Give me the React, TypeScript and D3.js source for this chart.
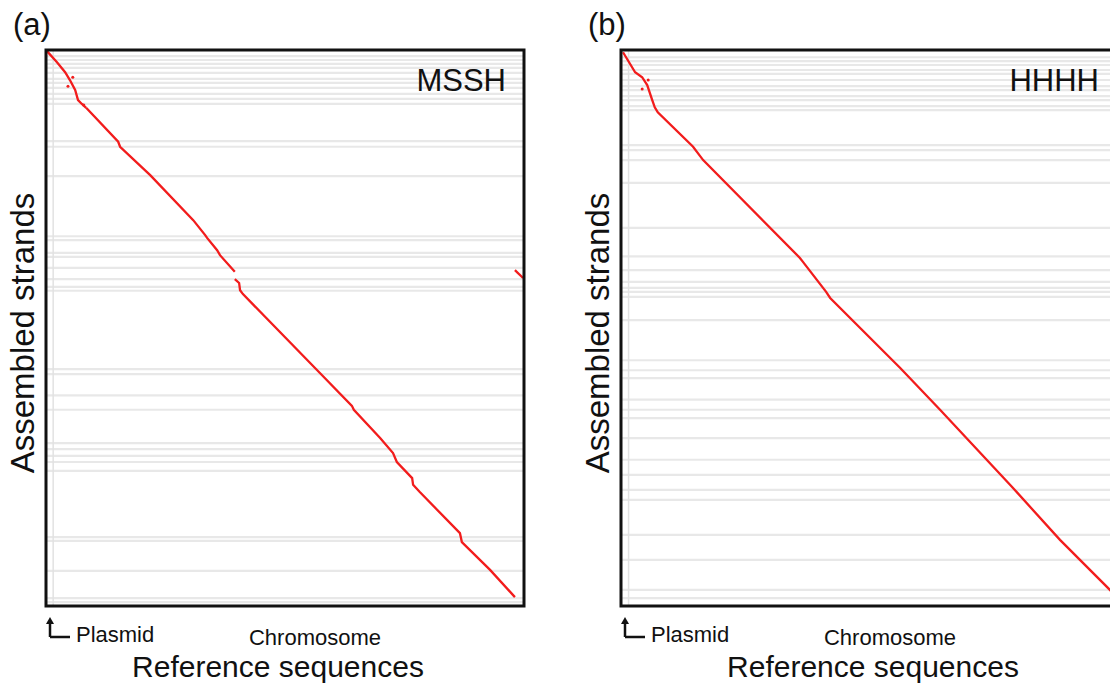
import React from 'react';
import * as d3 from 'd3';

// positions are in % of reference (x) and % of assembly (y)
const plasmidEnd = 1.5;

const segmentsA: [number, number][][] = [
  [[0.2, 0.2], [2.3, 2.2], [4.0, 4.0], [5.0, 5.4], [6.1, 7.2], [6.7, 9.0], [7.5, 9.7], [8.4, 10.4]],
  [[8.4, 10.4], [15.1, 16.5], [15.5, 17.4], [21.8, 22.5], [30.8, 30.6], [33.3, 33.3], [33.7, 33.8],
    [35.8, 36.0], [36.4, 36.9], [39.5, 39.9]],
  [[39.5, 41.2], [40.4, 41.9], [40.6, 43.2], [41.2, 43.9], [57.3, 58.1], [64.0, 64.0], [64.4, 64.7],
    [69.9, 69.8], [72.6, 72.5], [73.4, 74.1], [76.6, 77.0], [76.8, 78.2], [78.2, 79.5], [86.6, 86.9],
    [87.0, 88.5], [92.9, 93.5], [98.1, 98.4]],
  [[98.1, 39.6], [99.8, 41.0]]
];
const dotsA: [number, number][] = [[5.6, 4.9], [4.6, 6.5], [7.9, 9.9]];
const bandsA = [1.1, 1.8, 2.5, 3.2, 4.1, 5.2, 5.9, 6.8, 7.9, 8.8, 9.7, 16.4, 17.4, 22.7, 33.5, 34.2,
  36.5, 37.2, 39.2, 41.2, 42.6, 43.3, 57.4, 58.3, 62.1, 64.7, 70.7, 71.8, 73.0, 74.1, 75.7, 87.6,
  88.3, 93.7, 98.6, 99.3];

const segmentsB: [number, number][][] = [
  [[0.4, 0.4], [2.8, 4.0], [4.2, 4.9], [5.2, 6.3], [6.2, 9.0], [6.7, 10.3], [7.3, 11.2], [14.3, 17.4],
    [16.3, 19.8], [35.5, 37.4], [36.1, 38.1], [40.7, 43.5], [41.5, 44.6], [55.4, 57.2], [63.3, 64.7],
    [77.6, 78.6], [87.1, 88.1], [97.0, 97.1], [99.6, 99.6]]
];
const dotsB: [number, number][] = [[5.4, 5.4], [4.2, 7.0]];
const bandsB = [1.3, 2.0, 2.7, 3.6, 4.3, 5.4, 6.5, 7.2, 8.3, 9.0, 10.1, 10.8, 17.1, 18.0, 19.8, 23.9,
  32.0, 37.1, 39.6, 41.7, 42.8, 43.5, 44.4, 48.6, 55.8, 57.6, 59.0, 62.9, 64.7, 66.2, 69.8, 73.7,
  76.4, 79.1, 80.9, 87.2, 91.7, 97.1, 98.6];

const font = '"Liberation Sans", Arial, sans-serif';

type PanelProps = {
  letter: string;
  name: string;
  nameX: number;
  left: number;
  right: number;
  segments: [number, number][][];
  dots: [number, number][];
  bands: number[];
  chromX: number;
  refX: number;
};

const top = 50;
const bottom = 606;

const Panel = ({ letter, name, nameX, left, right, segments, dots, bands, chromX, refX }: PanelProps) => {
  const x = d3.scaleLinear().domain([0, 100]).range([left, right]);
  const y = d3.scaleLinear().domain([0, 100]).range([top, bottom]);
  const line = d3.line<[number, number]>().x(d => x(d[0])).y(d => y(d[1]));

  return (
    <g>
      <text x={left - 33} y={35} fontSize={31} fontFamily={font} fill="#111">{letter}</text>
      {bands.map((b, i) => (
        <line key={i} x1={left} x2={right} y1={y(b)} y2={y(b)} stroke="#e8e8e8" strokeWidth={2.2} />
      ))}
      <line x1={x(plasmidEnd)} x2={x(plasmidEnd)} y1={top} y2={bottom} stroke="#e2e2e2" strokeWidth={1.5} />
      {segments.map((s, i) => (
        <path key={i} d={line(s) || ''} fill="none" stroke="#f21c1c" strokeWidth={2.3} />
      ))}
      {dots.map((d, i) => (
        <circle key={i} cx={x(d[0])} cy={y(d[1])} r={1.5} fill="#f21c1c" />
      ))}
      <rect x={left} y={top} width={right - left} height={bottom - top} fill="none" stroke="#111" strokeWidth={3} />
      <text x={nameX} y={91} textAnchor="end" fontSize={31} fontFamily={font} fill="#111">{name}</text>
      <text transform={`translate(${left - 12},333) rotate(-90)`} textAnchor="middle"
        fontSize={33} fontFamily={font} fill="#111">Assembled strands</text>
      {/* plasmid arrow */}
      <path d={`M${left + 4},${bottom + 31} V${bottom + 16} M${left + 4},${bottom + 31} H${left + 24}`}
        fill="none" stroke="#111" strokeWidth={2.5} />
      <path d={`M${left + 4},${bottom + 11} l-4,7 h8 z`} fill="#111" />
      <text x={left + 30} y={642} fontSize={22} fontFamily={font} fill="#111">Plasmid</text>
      <text x={chromX} y={645} textAnchor="middle" fontSize={22} fontFamily={font} fill="#111">Chromosome</text>
      <text x={refX} y={677} textAnchor="middle" fontSize={30} fontFamily={font} fill="#111">Reference sequences</text>
    </g>
  );
};

export default function App() {
  return (
    <svg width={1110} height={686} style={{ position: 'absolute', left: 0, top: 0, background: '#fff' }}>
      <rect width={1110} height={686} fill="#fff" />
      <Panel letter="(a)" name="MSSH" nameX={506} left={46} right={524} segments={segmentsA} dots={dotsA}
        bands={bandsA} chromX={315} refX={278} />
      <Panel letter="(b)" name="HHHH" nameX={1099} left={621} right={1125} segments={segmentsB} dots={dotsB}
        bands={bandsB} chromX={890} refX={873} />
    </svg>
  );
}
